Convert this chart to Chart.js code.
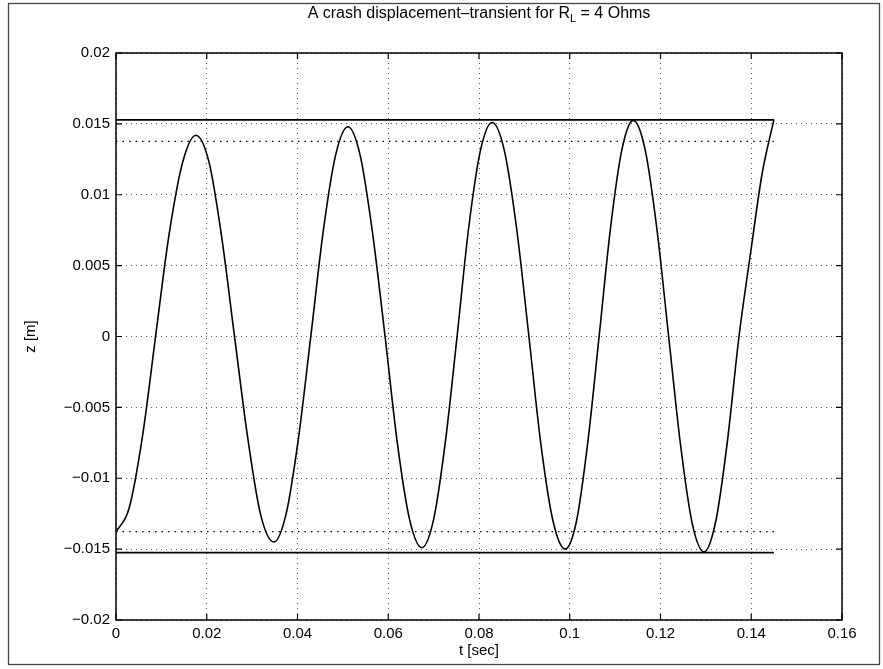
<!DOCTYPE html>
<html>
<head>
<meta charset="utf-8">
<title>A crash displacement-transient</title>
<script src="https://cdn.jsdelivr.net/npm/chart.js@4"></script>
<style>
  body { margin: 0; background: #fff; }
  canvas { display: block; }
</style>
</head>
<body>
<canvas id="crashChart" width="883" height="669"></canvas>
<script>
// values
const tValues = [
  0, 0.0029, 0.0059, 0.0088, 0.0117, 0.0147, 0.0176,
  0.0205, 0.0233, 0.0262, 0.0291, 0.0319, 0.0348,
  0.0375, 0.0402, 0.0430, 0.0457, 0.0484, 0.0511,
  0.0538, 0.0565, 0.0593, 0.0620, 0.0647, 0.0674,
  0.0700, 0.0726, 0.0752, 0.0777, 0.0803, 0.0829,
  0.0856, 0.0883, 0.0910, 0.0936, 0.0963, 0.0990,
  0.1015, 0.1040, 0.1065, 0.1090, 0.1115, 0.1140,
  0.1166, 0.1192, 0.1218, 0.1244, 0.1270, 0.1296,
  0.1322, 0.1347, 0.1373, 0.1399, 0.1424, 0.1450
];
const zValues = [
  -0.0138, -0.0121, -0.0069, 0.0002, 0.0072, 0.0123, 0.0142,
  0.0123, 0.0070, -0.0002, -0.0073, -0.0126, -0.0145,
  -0.0125, -0.0072, 0.0002, 0.0075, 0.0128, 0.0148,
  0.0128, 0.0074, 0.0000, -0.0075, -0.0129, -0.0149,
  -0.0129, -0.0074, 0.0001, 0.0076, 0.0131, 0.0151,
  0.0131, 0.0076, 0.0000, -0.0075, -0.0130, -0.0150,
  -0.0130, -0.0074, 0.0001, 0.0077, 0.0132, 0.01525,
  0.0132, 0.0076, 0.0000, -0.0076, -0.0132, -0.0152,
  -0.0130, -0.0075, 0.0000, 0.0060, 0.0115, 0.0153
];

// envelope lines (solid) and initial-amplitude lines (dotted)
const boundT = [0, 0.145];
const upperBound = [0.01528, 0.01528];
const lowerBound = [-0.01525, -0.01525];
const upperStart = [0.01377, 0.01377];
const lowerStart = [-0.01377, -0.01377];

const xTicks = [0, 0.02, 0.04, 0.06, 0.08, 0.1, 0.12, 0.14, 0.16];
const xTickLabels = ['0', '0.02', '0.04', '0.06', '0.08', '0.1', '0.12', '0.14', '0.16'];
const yTicks = [-0.02, -0.015, -0.01, -0.005, 0, 0.005, 0.01, 0.015, 0.02];
const yTickLabels = ['\u22120.02', '\u22120.015', '\u22120.01', '\u22120.005', '0', '0.005', '0.01', '0.015', '0.02'];

const FONT = '"Liberation Sans", Arial, Helvetica, sans-serif';

function toPoints(xs, ys) {
  return xs.map((x, i) => ({ x: x, y: ys[i] }));
}

// MATLAB style: ticks pointing inwards, box, frame and title with subscript
const matlabDecor = {
  id: 'matlabDecor',
  afterDraw(chart) {
    const ctx = chart.ctx;
    const area = chart.chartArea;
    const xs = chart.scales.x;
    const ys = chart.scales.y;
    ctx.save();
    ctx.strokeStyle = '#000';
    ctx.lineWidth = 1.2;
    ctx.beginPath();
    xTicks.forEach(v => {
      const px = xs.getPixelForValue(v);
      ctx.moveTo(px, area.bottom); ctx.lineTo(px, area.bottom - 6);
      ctx.moveTo(px, area.top); ctx.lineTo(px, area.top + 6);
    });
    yTicks.forEach(v => {
      const py = ys.getPixelForValue(v);
      ctx.moveTo(area.left, py); ctx.lineTo(area.left + 6, py);
      ctx.moveTo(area.right, py); ctx.lineTo(area.right - 6, py);
    });
    ctx.stroke();

    ctx.lineWidth = 1.5;
    ctx.strokeRect(area.left, area.top, area.right - area.left, area.bottom - area.top);

    // outer frame of the figure
    ctx.strokeStyle = '#444';
    ctx.lineWidth = 1.3;
    ctx.strokeRect(8.5, 3.5, 871, 661);

    // title
    ctx.fillStyle = '#000';
    ctx.textBaseline = 'alphabetic';
    const part1 = 'A crash displacement\u2013transient for R';
    const part2 = ' = 4 Ohms';
    ctx.font = '11px ' + FONT;
    const wSub = ctx.measureText('L').width;
    ctx.font = '16px ' + FONT;
    const w1 = ctx.measureText(part1).width;
    const w2 = ctx.measureText(part2).width;
    const cx = (area.left + area.right) / 2;
    const x0 = cx - (w1 + wSub + w2) / 2;
    const base = 18;
    ctx.textAlign = 'left';
    ctx.fillText(part1, x0, base);
    ctx.font = '11px ' + FONT;
    ctx.fillText('L', x0 + w1, base + 4);
    ctx.font = '16px ' + FONT;
    ctx.fillText(part2, x0 + w1 + wSub, base);
    ctx.restore();
  }
};

const gridStyle = {
  color: 'rgba(0,0,0,0.65)',
  lineWidth: 1,
  drawTicks: false
};

new Chart(document.getElementById('crashChart').getContext('2d'), {
  type: 'line',
  data: {
    datasets: [
      {
        label: 'z(t)',
        data: toPoints(tValues, zValues),
        borderColor: '#000',
        borderWidth: 1.6,
        pointRadius: 0,
        cubicInterpolationMode: 'monotone',
        fill: false
      },
      {
        label: 'upper envelope',
        data: toPoints(boundT, upperBound),
        borderColor: '#000',
        borderWidth: 1.6,
        pointRadius: 0
      },
      {
        label: 'lower envelope',
        data: toPoints(boundT, lowerBound),
        borderColor: '#000',
        borderWidth: 1.6,
        pointRadius: 0
      },
      {
        label: 'upper start',
        data: toPoints(boundT, upperStart),
        borderColor: '#000',
        borderWidth: 1.2,
        borderDash: [1.5, 5],
        pointRadius: 0
      },
      {
        label: 'lower start',
        data: toPoints(boundT, lowerStart),
        borderColor: '#000',
        borderWidth: 1.2,
        borderDash: [1.5, 5],
        pointRadius: 0
      }
    ]
  },
  options: {
    responsive: false,
    animation: false,
    layout: { padding: { left: 22, right: 41, top: 53, bottom: 9 } },
    plugins: {
      legend: { display: false },
      title: { display: false },
      tooltip: { enabled: false }
    },
    scales: {
      x: {
        type: 'linear',
        min: 0,
        max: 0.16,
        border: { display: false, dash: [1, 4] },
        grid: gridStyle,
        afterBuildTicks: axis => { axis.ticks = xTicks.map(v => ({ value: v })); },
        afterFit: axis => { axis.height = 40; },
        ticks: {
          padding: 5,
          color: '#000',
          font: { family: FONT, size: 15 },
          maxRotation: 0,
          callback: (v, i) => xTickLabels[i]
        },
        title: {
          display: true,
          text: 't [sec]',
          color: '#000',
          font: { family: FONT, size: 15 },
          padding: 0
        }
      },
      y: {
        type: 'linear',
        min: -0.02,
        max: 0.02,
        border: { display: false, dash: [1, 4] },
        grid: gridStyle,
        afterBuildTicks: axis => { axis.ticks = yTicks.map(v => ({ value: v })); },
        afterFit: axis => { axis.width = 94; },
        ticks: {
          padding: 6,
          color: '#000',
          font: { family: FONT, size: 15 },
          callback: (v, i) => yTickLabels[i]
        },
        title: {
          display: true,
          text: 'z [m]',
          color: '#000',
          font: { family: FONT, size: 15 },
          padding: 0
        }
      }
    }
  },
  plugins: [matlabDecor]
});
</script>
</body>
</html>
